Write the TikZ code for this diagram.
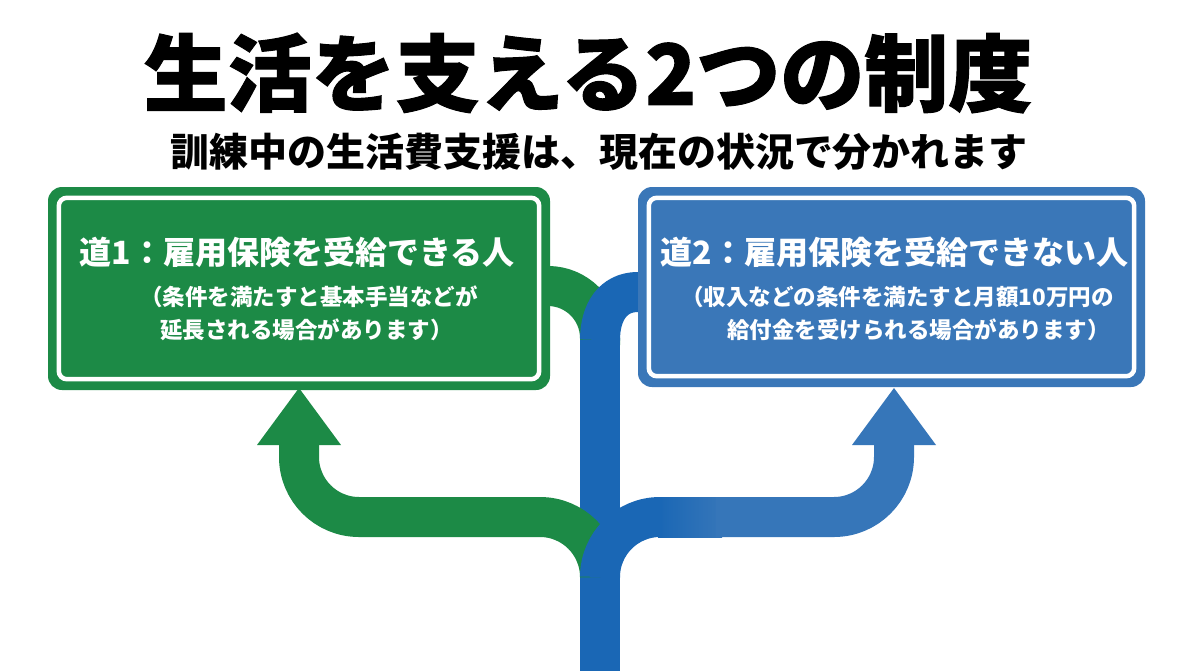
\documentclass[tikz,border=0pt]{standalone}
\usepackage{fontspec}
\usetikzlibrary{calc}
\setmainfont{Noto Sans CJK JP}
\newfontfamily\titlefont{Noto Sans CJK JP}[BoldFeatures={FakeBold=1.2}]
\definecolor{gr}{HTML}{1C8A46}
\definecolor{bl}{HTML}{3A77B8}
\definecolor{arrowbl}{HTML}{3676B9}
\definecolor{stembl}{HTML}{1A67B5}
\begin{document}
\begin{tikzpicture}[x=1pt,y=-1pt,
  signbox/.style={rounded corners=14pt, inner sep=0pt},
  boxtitle/.style={text=white, inner sep=0pt, font=\fontsize{32}{32}\selectfont\bfseries},
  boxsub/.style={text=white, inner sep=0pt, anchor=west, font=\fontsize{22.5}{22.5}\selectfont\bfseries},
  road/.style={line width=40pt, line cap=butt, line join=round}
]
\useasboundingbox (0,0) rectangle (1200,670);
\fill[white] (0,0) rectangle (1200,670);

% upper arcs behind the signs
\coordinate (gu) at (530,286);
\coordinate (bu) at (650,292);
\coordinate (st) at (600,340);
\coordinate (sb) at (600,672);
\draw[road, gr] (gu) -- (548,286) .. controls (576.7,286) and (600,309.3) .. (600,338) -- (600,345);
\draw[road, stembl] (bu) -- (638,292) .. controls (613,292) and (600,312) .. (st);
\draw[road, stembl] (st) -- (sb);

% signs
\node[signbox, fill=gr, minimum width=502pt, minimum height=203pt] (L) at (299,288.5) {};
\draw[white, line width=4.5pt, rounded corners=8pt] ($(L.south west)+(11,-11)$) rectangle ($(L.north east)+(-11,11)$);
\node[signbox, fill=bl, minimum width=507pt, minimum height=200pt] (R) at (891.5,287) {};
\draw[white, line width=4.5pt, rounded corners=8pt] ($(R.south west)+(11,-11)$) rectangle ($(R.north east)+(-11,11)$);

% lower branches
\coordinate (j) at (600,577);
\coordinate (lt) at (299,445);
\coordinate (rt) at (894,445);
\coordinate (rh) at (662,517);
\coordinate (rg) at (716,517);
\draw[road, gr] (j) .. controls (600,543.9) and (573.1,517) .. (540,517) -- (359,517)
  .. controls (325.9,517) and (299,490.1) .. (299,457) -- (lt);
\fill[gr] (257,445) -- (299,388) -- (341,445) -- cycle;
\shade[left color=stembl, right color=arrowbl] (658,497) rectangle (722,537);
\draw[road, stembl] (j) .. controls (600,543.9) and (626.9,517) .. (660,517) -- (rh);
\draw[road, arrowbl] (rg) -- (834,517)
  .. controls (867.1,517) and (894,490.1) .. (894,457) -- (rt);
\fill[arrowbl] (852,445) -- (894,388) -- (936,445) -- cycle;

% texts
\node[inner sep=0pt, font=\fontsize{84}{84}\titlefont\bfseries] (title) at (588,73) {生活を支える2つの制度};
\node[inner sep=0pt, font=\fontsize{39}{39}\selectfont\bfseries] (subtitle) at (599,152) {訓練中の生活費支援は、現在の状況で分かれます};

\node[boxtitle] (Lt) at (297,252) {道1：雇用保険を受給できる人};
\node[boxsub] (Ls1) at (140,297) {（条件を満たすと基本手当などが};
\node[boxsub] (Ls2) at (160,330) {延長される場合があります）};

\node[boxtitle] (Rt) at (894.5,252) {道2：雇用保険を受給できない人};
\node[boxsub] (Rs1) at (681,297) {（収入などの条件を満たすと月額10万円の};
\node[boxsub] (Rs2) at (727,330) {給付金を受けられる場合があります）};
\end{tikzpicture}
\end{document}
